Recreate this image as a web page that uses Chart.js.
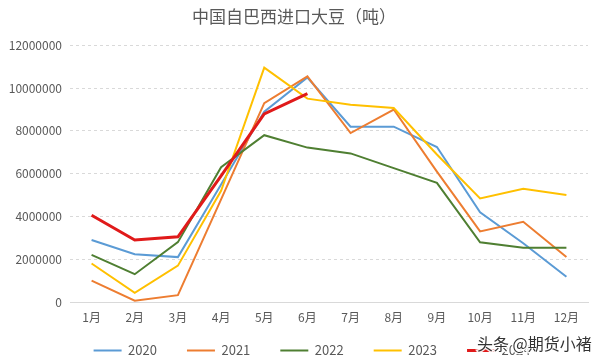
<!DOCTYPE html>
<html>
<head>
<meta charset="utf-8">
<script src="https://cdn.jsdelivr.net/npm/chart.js@4"></script>
<style>
  html, body { margin: 0; padding: 0; background: #ffffff; }
  #wrap { width: 600px; height: 362px; }
</style>
</head>
<body>
<div id="wrap"><canvas id="chart"></canvas></div>
<script>
// Monthly soybean imports from Brazil (tonnes).
const months = ["1月", "2月", "3月", "4月", "5月", "6月", "7月", "8月", "9月", "10月", "11月", "12月"];
const years = ["2020", "2021", "2022", "2023", "2024"];

const y2020 = [2900000, 2230000, 2100000, 5500000, 8900000, 10500000, 8200000, 8200000, 7250000, 4200000, 2750000, 1180000];
const y2021 = [1000000, 60000, 320000, 4800000, 9300000, 10550000, 7900000, 9000000, 6100000, 3300000, 3750000, 2100000];
const y2022 = [2200000, 1300000, 2800000, 6300000, 7800000, 7220000, 6950000, 6260000, 5570000, 2790000, 2540000, 2540000];
const y2023 = [1800000, 430000, 1700000, 5200000, 10960000, 9510000, 9230000, 9070000, 6900000, 4840000, 5300000, 5000000];
const y2024 = [4060000, 2900000, 3050000, 5900000, 8800000, 9740000];

const yTicks = [0, 2000000, 4000000, 6000000, 8000000, 10000000, 12000000];

const colors = ["#5B9BD5", "#ED7D31", "#4F7F32", "#FFC000", "#E01A1A"];
const widths = [2, 2, 2, 2, 3];
const series = [y2020, y2021, y2022, y2023, y2024];

const font = "'Noto Sans CJK SC', 'Noto Sans', sans-serif";
const textColor = "#595959";

let datasets = [];
for (let i = 0; i < series.length; i++) {
    datasets.push({
        label: years[i],
        data: series[i],
        borderColor: colors[i],
        backgroundColor: colors[i],
        borderWidth: widths[i],
        pointRadius: 0,
        pointHoverRadius: 0,
        tension: 0,
        fill: false,
        // later years are drawn on top
        order: series.length - 1 - i
    });
}

// puts the legend where it sits in the picture, and adds the watermark
const extras = {
    id: "extras",
    afterLayout(chart) {
        const lg = chart.legend;
        lg.left += 18;
        lg.right += 18;
        lg.top = 314;
        lg.bottom = chart.height;
    },
    afterDraw(chart) {
        const ctx = chart.ctx;
        ctx.save();
        ctx.font = "16px " + font;
        ctx.textBaseline = "middle";
        ctx.textAlign = "left";
        ctx.lineWidth = 3;
        ctx.strokeStyle = "rgba(255,255,255,0.9)";
        ctx.strokeText("头条 @期货小褚", 477, 344);
        ctx.fillStyle = "#333333";
        ctx.fillText("头条 @期货小褚", 477, 344);
        ctx.restore();
    }
};

new Chart(document.getElementById("chart"), {
    type: "line",
    data: {
        labels: months,
        datasets: datasets
    },
    options: {
        responsive: true,
        maintainAspectRatio: false,
        animation: false,
        layout: {
            padding: { left: 0, right: 12, top: 0, bottom: 0 }
        },
        plugins: {
            title: {
                display: true,
                text: "中国自巴西进口大豆（吨）",
                color: textColor,
                font: { family: font, size: 17, weight: "normal" },
                padding: { top: 6, bottom: 19 }
            },
            legend: {
                position: "bottom",
                maxHeight: 35,
                labels: {
                    usePointStyle: true,
                    pointStyle: "line",
                    pointStyleWidth: 28,
                    padding: 30,
                    color: textColor,
                    font: { family: font, size: 13 },
                    sort: (a, b) => a.datasetIndex - b.datasetIndex
                }
            },
            tooltip: { enabled: false }
        },
        scales: {
            x: {
                offset: true,
                afterFit(scale) {
                    scale.height = 25;
                },
                grid: { display: false, drawTicks: false },
                border: { display: true, color: "#D9D9D9", width: 1 },
                ticks: {
                    color: textColor,
                    font: { family: font, size: 12 },
                    padding: 8,
                    maxRotation: 0,
                    autoSkip: false
                }
            },
            y: {
                min: 0,
                max: 12000000,
                afterFit(scale) {
                    scale.width = 70;
                },
                afterBuildTicks(scale) {
                    scale.ticks = yTicks.map(v => ({ value: v }));
                },
                grid: { color: "#D9D9D9", drawTicks: false },
                border: { display: false, dash: [3, 3] },
                ticks: {
                    color: textColor,
                    font: { family: font, size: 12 },
                    padding: 8,
                    callback: v => String(v)
                }
            }
        }
    },
    plugins: [extras]
});
</script>
</body>
</html>
